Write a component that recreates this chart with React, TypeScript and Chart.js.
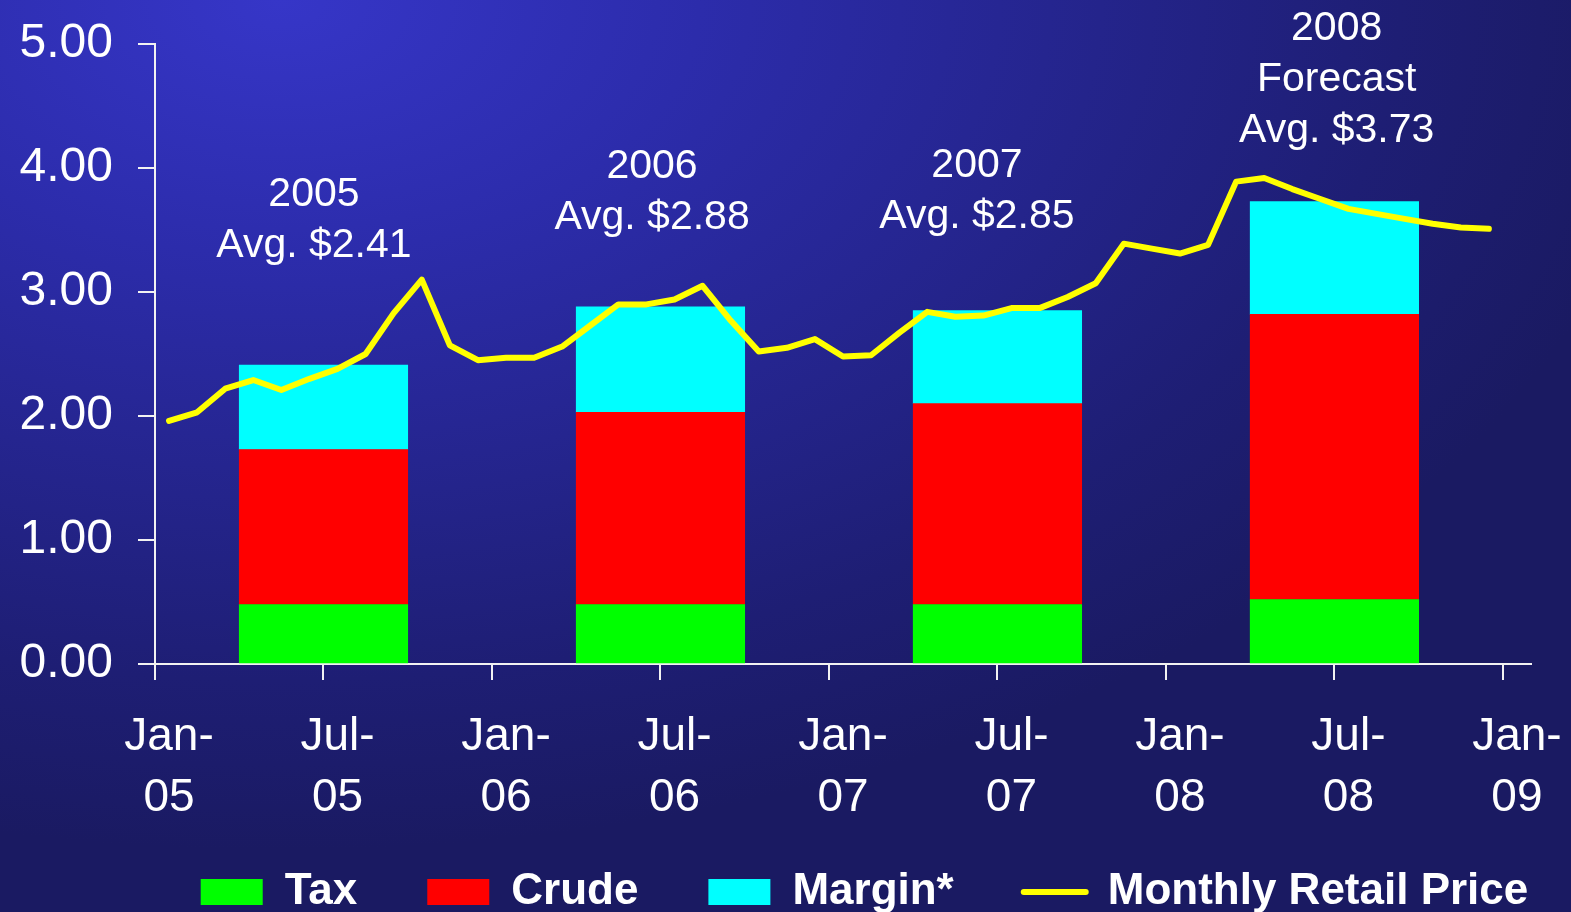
import React, { useEffect, useRef } from 'react';
import { Chart, registerables } from 'chart.js';

Chart.register(...registerables);

// ---- data ----
const months = [
  'Jan-05', 'Feb-05', 'Mar-05', 'Apr-05', 'May-05', 'Jun-05', 'Jul-05', 'Aug-05', 'Sep-05', 'Oct-05', 'Nov-05', 'Dec-05',
  'Jan-06', 'Feb-06', 'Mar-06', 'Apr-06', 'May-06', 'Jun-06', 'Jul-06', 'Aug-06', 'Sep-06', 'Oct-06', 'Nov-06', 'Dec-06',
  'Jan-07', 'Feb-07', 'Mar-07', 'Apr-07', 'May-07', 'Jun-07', 'Jul-07', 'Aug-07', 'Sep-07', 'Oct-07', 'Nov-07', 'Dec-07',
  'Jan-08', 'Feb-08', 'Mar-08', 'Apr-08', 'May-08', 'Jun-08', 'Jul-08', 'Aug-08', 'Sep-08', 'Oct-08', 'Nov-08', 'Dec-08',
];

const retailPrice = [
  1.96, 2.03, 2.22, 2.29, 2.21, 2.30, 2.38, 2.50, 2.83, 3.10, 2.57, 2.45,
  2.47, 2.47, 2.56, 2.73, 2.90, 2.90, 2.94, 3.05, 2.77, 2.52, 2.55, 2.62,
  2.48, 2.49, 2.67, 2.84, 2.80, 2.81, 2.87, 2.87, 2.96, 3.07, 3.39, 3.35,
  3.31, 3.38, 3.89, 3.92, 3.83, 3.75, 3.67, 3.63, 3.59, 3.55, 3.52, 3.51,
];

const barMonths = ['Jul-05', 'Jul-06', 'Jul-07', 'Jul-08'];
const tax = [0.48, 0.48, 0.48, 0.52];
const crude = [1.25, 1.55, 1.62, 2.30];
const margin = [0.68, 0.85, 0.75, 0.91];

const xTickLabels = ['Jan-05', 'Jul-05', 'Jan-06', 'Jul-06', 'Jan-07', 'Jul-07', 'Jan-08', 'Jul-08', 'Jan-09'];
const monthsPerTick = 6;

const noteLines = [
  ['2005', 'Avg. $2.41'],
  ['2006', 'Avg. $2.88'],
  ['2007', 'Avg. $2.85'],
  ['2008', 'Forecast', 'Avg. $3.73'],
];
// anchor of each note (centre x in months, baseline of last line in $)
const noteAnchorX = [5.66, 17.7, 29.27, 42.08];
const noteAnchorY = [3.285, 3.51, 3.514, 4.21];

// ---- styles ----
const FONT = '"Liberation Sans", Arial, Helvetica, sans-serif';
const WHITE = '#ffffff';
const AXIS = '#f2f2f2';
const LEGEND_PAD = 70;
const LEGEND_SHIFT_X = 99;
const LEGEND_ROW_FROM_BOTTOM = 112;

const notesPlugin = {
  id: 'notes',
  afterLayout(chart: any) {
    const lg = chart.legend;
    if (lg) {
      lg.left += LEGEND_SHIFT_X;
      lg.right += LEGEND_SHIFT_X;
      lg.top = chart.height - LEGEND_ROW_FROM_BOTTOM;
      lg.bottom = chart.height;
    }
  },
  afterDraw(chart: any) {
    const { ctx } = chart;
    const x = chart.scales.x;
    const y = chart.scales.y;
    ctx.save();
    ctx.fillStyle = WHITE;
    ctx.font = `41px ${FONT}`;
    ctx.textAlign = 'center';
    ctx.textBaseline = 'alphabetic';
    noteLines.forEach((lines, i) => {
      const cx = x.getPixelForValue(noteAnchorX[i]);
      const by = y.getPixelForValue(noteAnchorY[i]);
      lines.forEach((t, k) => {
        ctx.fillText(t, cx, by - (lines.length - 1 - k) * 51);
      });
    });
    ctx.restore();
  },
};

export default function App() {
  const canvasRef = useRef<HTMLCanvasElement | null>(null);

  useEffect(() => {
    const canvas = canvasRef.current;
    if (!canvas) return;

    const barX = barMonths.map((m) => months.indexOf(m));
    const tickValues = xTickLabels.map((_, i) => i * monthsPerTick);

    const barCommon = {
      type: 'bar',
      borderWidth: 0,
      stack: 'price',
      categoryPercentage: 1,
      barPercentage: 1,
    };

    const chart = new Chart(canvas, {
      type: 'bar',
      data: {
        datasets: [
          { ...barCommon, label: 'Tax', data: barX.map((x, i) => ({ x, y: tax[i] })), backgroundColor: '#00ff00' },
          { ...barCommon, label: 'Crude', data: barX.map((x, i) => ({ x, y: crude[i] })), backgroundColor: '#ff0000' },
          { ...barCommon, label: 'Margin*', data: barX.map((x, i) => ({ x, y: margin[i] })), backgroundColor: '#00ffff' },
          {
            type: 'line',
            label: 'Monthly Retail Price',
            data: retailPrice.map((v, i) => ({ x: i + 0.5, y: v })),
            borderColor: '#ffff00',
            backgroundColor: '#ffff00',
            borderWidth: 6,
            pointRadius: 0,
            tension: 0,
            borderCapStyle: 'round',
            borderJoinStyle: 'round',
            order: -1,
          },
        ] as any,
      },
      options: {
        animation: false,
        responsive: true,
        maintainAspectRatio: false,
        layout: { padding: { left: 0, right: 40, top: 44, bottom: 0 } },
        plugins: {
          tooltip: { enabled: false },
          legend: {
            position: 'bottom',
            maxHeight: 98,
            labels: {
              color: WHITE,
              font: { family: FONT, size: 44, weight: 'bold' },
              usePointStyle: true,
              pointStyleWidth: 62,
              boxHeight: 26,
              padding: LEGEND_PAD,
              generateLabels: (c: any) => {
                const items = (Chart.defaults.plugins.legend.labels as any).generateLabels(c);
                return items
                  .map((it: any) => {
                    const ds: any = c.data.datasets[it.datasetIndex];
                    if (ds.type === 'line') {
                      return { ...it, pointStyle: 'line', lineWidth: 6, lineCap: 'round', strokeStyle: '#ffff00', fillStyle: '#ffff00' };
                    }
                    return { ...it, pointStyle: 'rect', lineWidth: 0 };
                  })
                  .sort((a: any, b: any) => a.datasetIndex - b.datasetIndex);
              },
            },
          },
        },
        scales: {
          x: {
            type: 'linear',
            min: 0,
            max: months.length + 1,
            offset: false,
            afterBuildTicks: (axis: any) => {
              axis.ticks = tickValues.map((v) => ({ value: v }));
            },
            afterFit: (axis: any) => {
              axis.height = 150;
              axis.paddingLeft = 0;
              axis.paddingRight = 0;
            },
            grid: {
              display: true,
              offset: false,
              drawOnChartArea: false,
              drawTicks: true,
              tickLength: 16,
              color: AXIS,
              lineWidth: 2,
            },
            border: { display: true, color: AXIS, width: 2 },
            ticks: {
              stepSize: monthsPerTick,
              autoSkip: false,
              maxRotation: 0,
              minRotation: 0,
              padding: 27,
              labelOffset: 14,
              color: WHITE,
              font: { family: FONT, size: 46, lineHeight: 1.32 },
              callback: (v: any) => {
                const lbl = xTickLabels[Math.round(Number(v) / monthsPerTick)];
                if (!lbl) return '';
                const [m, yy] = lbl.split('-');
                return [m + '-', yy];
              },
            },
          },
          y: {
            min: 0,
            max: 5,
            afterFit: (axis: any) => {
              axis.width = 155;
              axis.paddingTop = 0;
              axis.paddingBottom = 0;
            },
            grid: {
              display: true,
              drawOnChartArea: false,
              drawTicks: true,
              tickLength: 17,
              color: AXIS,
              lineWidth: 2,
            },
            border: { display: true, color: AXIS, width: 2 },
            ticks: {
              stepSize: 1,
              padding: 25,
              color: WHITE,
              font: { family: FONT, size: 48 },
              callback: (v: any) => Number(v).toFixed(2),
            },
          },
        },
      },
      plugins: [notesPlugin],
    } as any);

    return () => chart.destroy();
  }, []);

  return (
    <div
      style={{
        position: 'fixed',
        left: 0,
        top: 0,
        width: '100vw',
        height: '100vh',
        background:
          'radial-gradient(ellipse 1400px 850px at 280px 0px, #3636c8 0%, #2c2cab 30%, #25258f 55%, #1e1e74 80%, #1a1a62 100%)',
      }}
    >
      <canvas ref={canvasRef} style={{ display: 'block' }} />
    </div>
  );
}
